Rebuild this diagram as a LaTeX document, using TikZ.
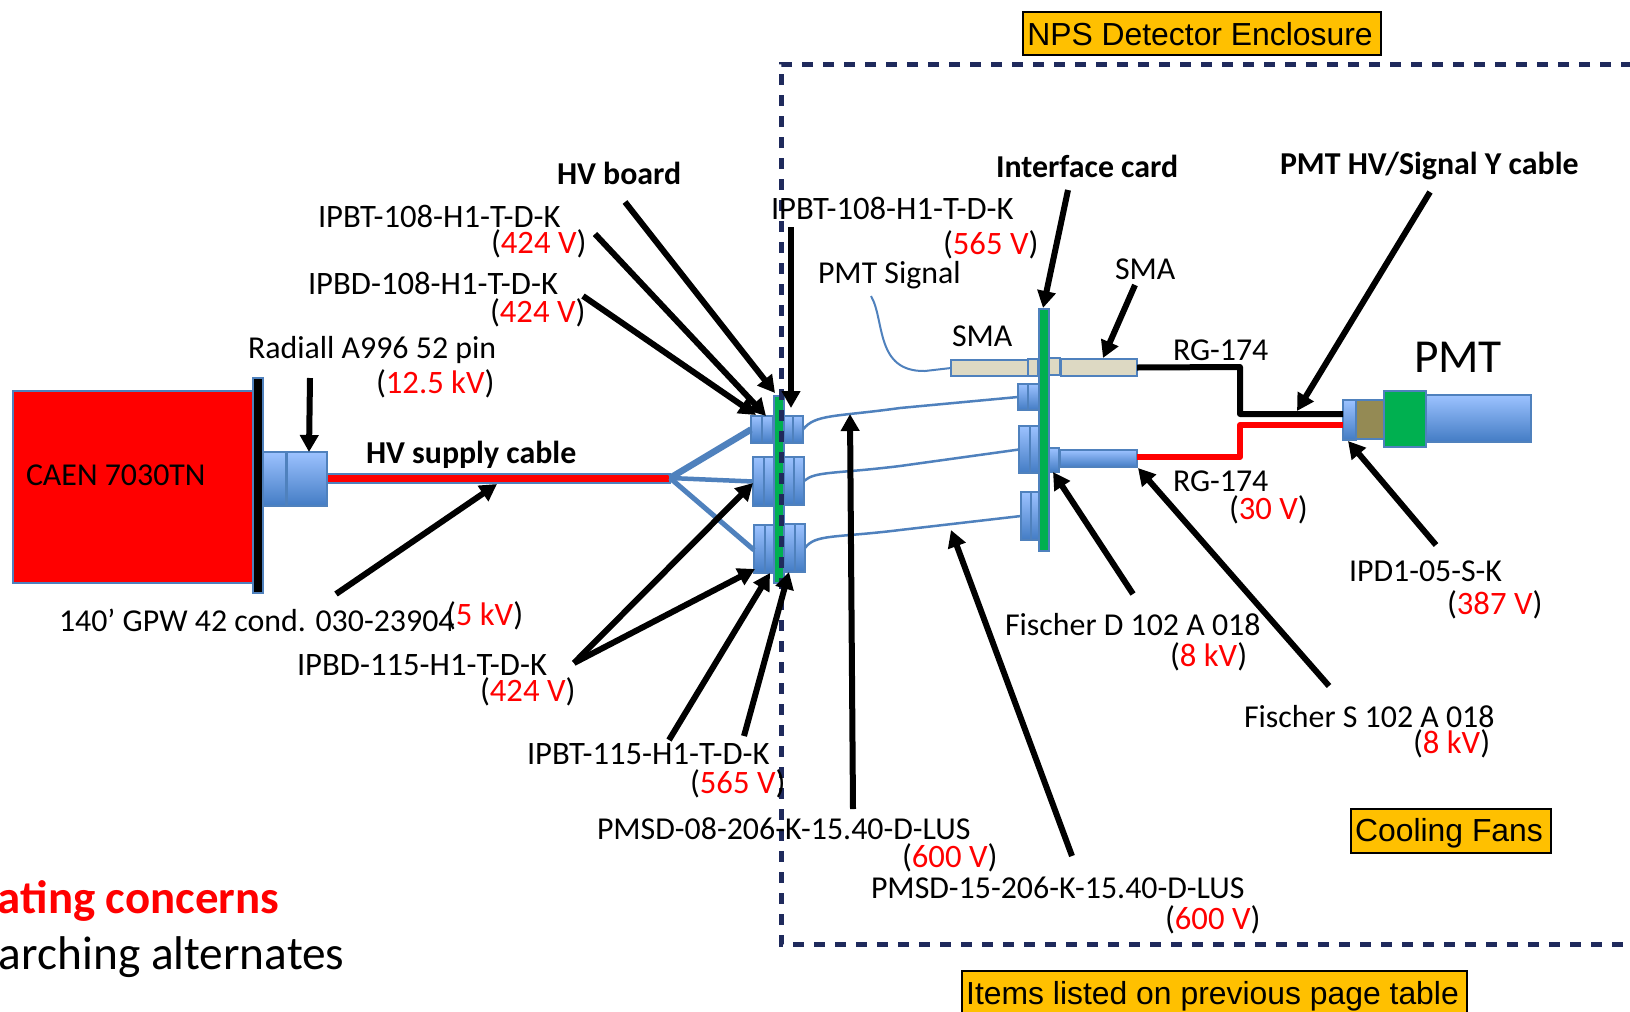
\documentclass[tikz,border=0pt]{standalone}
\usepackage{fontspec}
\setmainfont{Carlito}
\newfontfamily\arialf{Liberation Sans}
\usetikzlibrary{arrows.meta}
\definecolor{edgeblue}{HTML}{4F81BD}
\definecolor{navy}{HTML}{1F2A5C}
\definecolor{hvgreen}{HTML}{00B050}
\definecolor{tanfill}{HTML}{DDD9C3}
\definecolor{brownfill}{HTML}{948A54}
\definecolor{gold}{HTML}{FFC000}
\tikzset{
  lab/.style={anchor=base west,inner sep=0pt,outer sep=0pt,yshift=-1bp,font=\fontsize{32}{36}\selectfont,text=black},
  labw/.style={lab,font=\fontsize{32.8}{36}\selectfont},
  labb/.style={lab,font=\fontsize{32}{36}\selectfont\bfseries},
  big/.style={lab,font=\fontsize{47.5}{50}\selectfont},
  blk/.style={inner sep=0pt,outer sep=0pt,draw=edgeblue,line width=2bp},
  conn/.style={blk,top color=conntop,bottom color=connbot},
  tanbox/.style={blk,fill=tanfill},
  ybox/.style={inner sep=0pt,outer sep=0pt,draw=black,line width=2bp,fill=gold},
  ytext/.style={font=\arialf\fontsize{32}{36}\selectfont},
  callout/.style={line width=6bp,black,-{Triangle[length=17bp,width=18bp]}},
  fan/.style={edgeblue,line width=#1},
  thinwire/.style={edgeblue,line width=2.5bp},
  cableb/.style={black,line width=6bp,line join=round},
  cabler/.style={red,line width=6bp,line join=round},
  encl/.style={navy,line width=5bp,dash pattern=on 11bp off 10bp}
}
\definecolor{conntop}{HTML}{9CC2FF}
\definecolor{connbot}{HTML}{437CC4}
\newcommand\bx[6]{\node[#1,minimum width={(#4-#2)*1bp},minimum height={(#5-#3)*1bp}] (#6) at ({(#2+#4)/2},{(#3+#5)/2}) {};}
\newcommand\rv[1]{(\textcolor{red}{#1})}
\newcommand\callarrow[5]{\coordinate (#1s) at (#2,#3); \coordinate (#1t) at (#4,#5); \draw[callout] (#1s) -- (#1t);}
\begin{document}
\begin{tikzpicture}[x=1bp,y=-1bp]
\useasboundingbox[fill=white] (0,0) rectangle (1630,1011);
% power supply
\bx{blk,fill=red}{13}{391}{253}{583}{caen}
\bx{blk,fill=black}{253}{378}{263}{593}{panel}
\node[lab] (caenl) at (26,484) {CAEN 7030TN};
\bx{conn}{263}{452}{286}{506}{ra}
\bx{conn}{287}{452}{327}{506}{rb}
% supply cable
\bx{blk,fill=red}{327}{474}{670}{483}{hvcable}
\coordinate (fanpt) at (670,478);
% fan-out
\bx{conn}{751}{416}{762}{443}{tla}
\bx{conn}{762}{416}{773}{443}{tlb}
\bx{conn}{753}{457}{764}{506}{mla}
\bx{conn}{764}{457}{774}{506}{mlb}
\bx{conn}{754}{525}{765}{573}{lla}
\bx{conn}{765}{525}{775}{573}{llb}
\draw[fan=6.5bp] (fanpt) -- (tla.west);
\draw[fan=4.5bp] (fanpt) -- (mla.west);
\draw[fan=5bp] (fanpt) -- ([yshift=-1bp]lla.west);
\bx{conn}{783}{416}{793}{443}{tra}
\bx{conn}{793}{416}{803}{443}{trb}
\bx{conn}{784}{457}{794}{505}{mra}
\bx{conn}{794}{457}{804}{505}{mrb}
\bx{conn}{784}{524}{795}{572}{lra}
\bx{conn}{795}{524}{805}{572}{lrb}
\bx{blk,fill=hvgreen}{774}{396}{784}{583}{hvboard}
% interface card
\bx{conn}{1018}{384}{1028}{410}{ica}
\bx{conn}{1028}{384}{1039}{410}{icb}
\bx{conn}{1019}{426}{1030}{473}{ima}
\bx{conn}{1030}{426}{1040}{473}{imb}
\bx{conn}{1021}{492}{1031}{540}{iba}
\bx{conn}{1031}{492}{1042}{540}{ibb}
\bx{tanbox}{951}{360}{1028}{376}{smal}
\bx{tanbox}{1028}{359}{1038}{376}{smalb}
\bx{tanbox}{1049}{358}{1060}{375}{smara}
\bx{tanbox}{1061}{359}{1137}{376}{smarb}
\bx{conn}{1049}{448}{1059}{472}{fda}
\bx{conn}{1060}{450}{1137}{467}{fdb}
\bx{blk,fill=hvgreen}{1039}{309}{1049}{551}{icard}
% flex wires
\draw[thinwire] (trb.east) .. controls (815,414) and (835,417) .. (900,408) -- (ica.west);
\draw[thinwire] (mrb.east) .. controls (815,471) and (835,474) .. (900,466) -- (ima.west);
\draw[thinwire] (lrb.east) .. controls (815,534) and (835,538) .. (900,530) -- (iba.west);
\coordinate (sigtop) at (871,296);
\draw[edgeblue,line width=2bp] (sigtop) .. controls (885,320) and (875,372) .. (925,371) -- (smal.west);
% RG-174
\coordinate (bk1) at (1240,367);
\coordinate (bk2) at (1240,414);
\coordinate (rd1) at (1240,457);
\coordinate (rd2) at (1240,425);
% PMT
\bx{conn}{1343}{400}{1356}{440}{pa}
\bx{blk,fill=brownfill}{1356}{400}{1384}{439}{pb}
\bx{conn}{1426}{395}{1531}{442}{pd}
\bx{blk,fill=hvgreen}{1384}{391}{1426}{447}{pc}
\draw[cableb] (smarb.east) -- (bk1) -- (bk2) -- (pa.west |- bk2);
\draw[cabler] (fdb.east |- rd1) -- (rd1) -- (rd2) -- (pa.west |- rd2);
% enclosure
\coordinate (enA) at (1632,64);
\coordinate (enB) at (781,64);
\coordinate (enC) at (781,944);
\coordinate (enD) at (1632,944);
\draw[encl] (enA) -- (enB) -- (enC) -- (enD);
% callouts
\callarrow{a1}{625}{202}{775}{393}
\callarrow{a2}{595}{234}{766}{416}
\callarrow{a3}{583}{296}{756}{415}
\callarrow{a4}{791}{227}{791}{408}
\callarrow{a5}{310}{378}{309}{452}
\callarrow{a6}{336}{594}{497}{484}
\callarrow{a7}{574}{663}{753}{483}
\callarrow{a8}{574}{663}{755}{569}
\callarrow{a9}{669}{740}{770}{573}
\callarrow{a10}{744}{736}{789}{572}
\callarrow{a11}{853}{809}{850}{414}
\callarrow{a12}{1072}{856}{951}{530}
\callarrow{a13}{1068}{190}{1043}{308}
\callarrow{a14}{1135}{285}{1103}{358}
\callarrow{a15}{1430}{192}{1297}{411}
\callarrow{a16}{1436}{545}{1348}{441}
\callarrow{a17}{1133}{594}{1053}{472}
\callarrow{a18}{1329}{686}{1138}{468}
% labels
\node[labb] (t1) at (557,183) {HV board};
\node[labw] (t2) at (318,226) {IPBT-108-H1-T-D-K};
\node[labw] (t3) at (491,252) {\rv{424 V}};
\node[labw] (t4) at (308,293) {IPBD-108-H1-T-D-K};
\node[labw] (t5) at (490,321) {\rv{424 V}};
\node[lab] (t6) at (248,357) {Radiall A996 52 pin};
\node[labw] (t7) at (376,392) {\rv{12.5 kV}};
\node[labb] (t8) at (366,462) {HV supply cable};
\node[lab] (t9) at (59,630) {140’ GPW 42 cond. 030-23904};
\node[labw] (t10) at (446,624) {\rv{5 kV}};
\node[labw] (t11) at (297,674) {IPBD-115-H1-T-D-K};
\node[labw] (t12) at (480,700) {\rv{424 V}};
\node[labw] (t13) at (527,763) {IPBT-115-H1-T-D-K};
\node[labw] (t14) at (690,792) {\rv{565 V}};
\node[lab] (t15) at (597,838) {PMSD-08-206-K-15.40-D-LUS};
\node[labw] (t16) at (902,866) {\rv{600 V}};
\node[lab] (t17) at (871,897) {PMSD-15-206-K-15.40-D-LUS};
\node[labw] (t18) at (1165,928) {\rv{600 V}};
\node[labw] (t19) at (771,218) {IPBT-108-H1-T-D-K};
\node[labw] (t20) at (943,253) {\rv{565 V}};
\node[lab] (t21) at (818,282) {PMT Signal};
\node[labb] (t22) at (996,176) {Interface card};
\node[labb] (t23) at (1280,173) {PMT HV/Signal Y cable};
\node[lab] (t24) at (952,345) {SMA};
\node[lab] (t25) at (1115,278) {SMA};
\node[lab] (t26) at (1173,359) {RG-174};
\node[lab] (t27) at (1173,490) {RG-174};
\node[labw] (t28) at (1229,518) {\rv{30 V}};
\node[big] (t29) at (1414,371) {PMT};
\node[lab] (t30) at (1349,580) {IPD1-05-S-K};
\node[labw] (t31) at (1447,613) {\rv{387 V}};
\node[lab] (t32) at (1005,634) {Fischer D 102 A 018};
\node[labw] (t33) at (1170,665) {\rv{8 kV}};
\node[lab] (t34) at (1244,726) {Fischer S 102 A 018};
\node[labw] (t35) at (1413,752) {\rv{8 kV}};
\node[big,font=\fontsize{47}{50}\selectfont\bfseries,text=red] (t36) at (-2,912) {ating concerns};
\node[big] (t37) at (-1,968) {arching alternates};
% yellow boxes
\bx{ybox}{1023}{12}{1381}{55}{y1}
\node[ytext] (y1t) at ([xshift=-2bp,yshift=-1bp]y1) {NPS Detector Enclosure};
\bx{ybox}{1351}{809}{1551}{853}{y2}
\node[ytext] (y2t) at ([xshift=-2bp,yshift=-2bp]y2) {Cooling Fans};
\bx{ybox}{962}{971}{1467}{1016}{y3}
\node[ytext] (y3t) at ([xshift=-2bp,yshift=-3bp]y3) {Items listed on previous page table};
\end{tikzpicture}
\end{document}
